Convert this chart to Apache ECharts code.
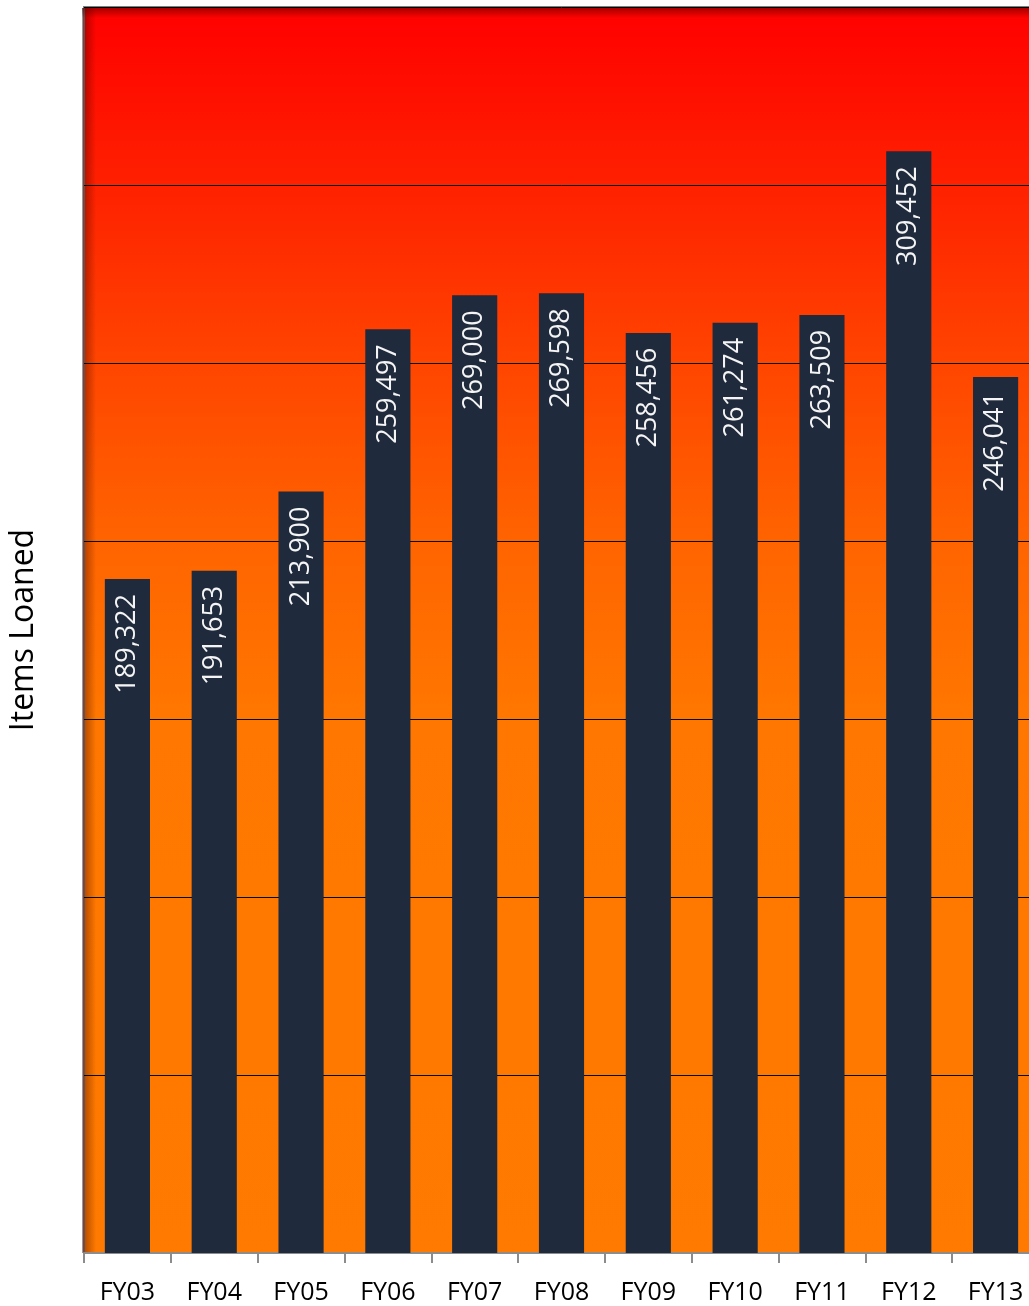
<!DOCTYPE html>
<html>
<head>
<meta charset="utf-8">
<script src="https://cdn.jsdelivr.net/npm/echarts@6/dist/echarts.min.js"></script>
<style>
html,body{margin:0;padding:0;background:#fff;overflow:hidden;}
#chart{width:1039px;height:1306px;}
</style>
</head>
<body>
<div id="chart"></div>
<script>
var categories = ['FY03','FY04','FY05','FY06','FY07','FY08','FY09','FY10','FY11','FY12','FY13'];
var itemsLoaned = [189322,191653,213900,259497,269000,269598,258456,261274,263509,309452,246041];
var axisName = 'Items Loaned';

var chart = echarts.init(document.getElementById('chart'));
var font = 'Open Sans, Noto Sans, sans-serif';
chart.setOption({
  animation: false,
  grid: {
    left: 82, right: 0, top: 7, bottom: 53,
    show: true,
    borderColor: '#7f7f7f',
    borderWidth: 2,
    backgroundColor: new echarts.graphic.LinearGradient(0, 0, 0, 1, [
      {offset: 0, color: '#ff0000'},
      {offset: 0.15, color: '#ff2200'},
      {offset: 0.29, color: '#ff4600'},
      {offset: 0.43, color: '#ff6400'},
      {offset: 0.57, color: '#ff7700'},
      {offset: 1, color: '#ff7a00'}
    ])
  },
  graphic: [
    {type: 'rect', left: 82, top: 8, z: 0, silent: true,
     shape: {width: 14, height: 1245},
     style: {fill: new echarts.graphic.LinearGradient(0, 0, 1, 0, [
       {offset: 0, color: 'rgba(60,0,0,0.45)'}, {offset: 1, color: 'rgba(60,0,0,0)'}])}},
    {type: 'rect', left: 82, top: 8, z: 0, silent: true,
     shape: {width: 957, height: 10},
     style: {fill: new echarts.graphic.LinearGradient(0, 0, 0, 1, [
       {offset: 0, color: 'rgba(60,0,0,0.45)'}, {offset: 1, color: 'rgba(60,0,0,0)'}])}}
  ],
  xAxis: {
    type: 'category',
    data: categories,
    axisLine: {show: true, lineStyle: {color: '#8c8c8c', width: 2}},
    axisTick: {show: true, length: 10, lineStyle: {color: '#8c8c8c', width: 2}},
    axisLabel: {color: '#000', fontSize: 25, fontFamily: font, margin: 27}
  },
  yAxis: {
    type: 'value',
    min: 0, max: 350000, interval: 50000,
    name: axisName,
    nameLocation: 'middle',
    nameRotate: 90,
    nameGap: 44,
    nameTextStyle: {color: '#000', fontSize: 32, fontFamily: font},
    axisLabel: {show: false},
    axisLine: {show: false},
    axisTick: {show: false},
    splitLine: {show: true, lineStyle: {color: '#000', width: 1}}
  },
  series: [{
    type: 'bar',
    data: itemsLoaned,
    barWidth: '52%',
    itemStyle: {color: '#1f2a3c'},
    label: {
      show: true,
      position: 'insideTop',
      rotate: 90,
      align: 'right',
      verticalAlign: 'middle',
      distance: 15,
      color: '#f4f4f4',
      fontSize: 27,
      fontFamily: font,
      formatter: function (p) { return p.value.toLocaleString('en-US'); }
    }
  }]
});
</script>
</body>
</html>
